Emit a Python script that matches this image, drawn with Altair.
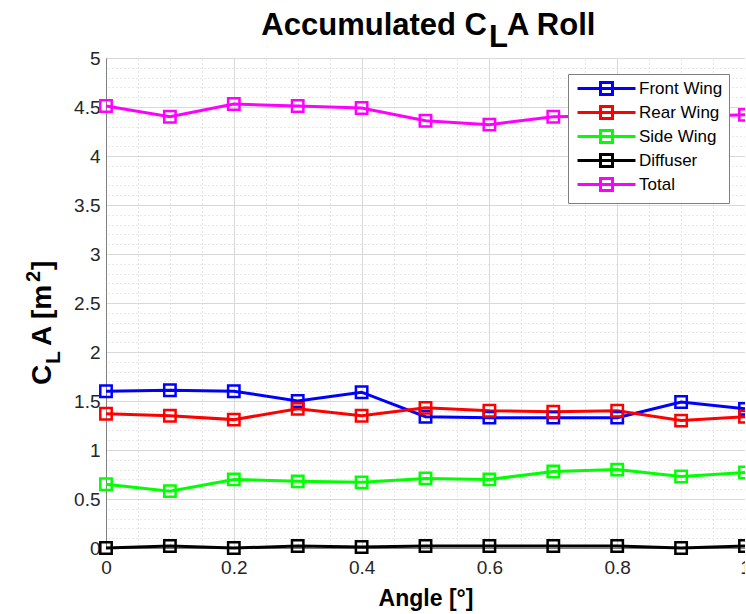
import altair as alt
import pandas as pd

# ---------------- data ----------------
angles = [0.0, 0.1, 0.2, 0.3, 0.4, 0.5, 0.6, 0.7, 0.8, 0.9, 1.0]
front_wing = [1.60, 1.61, 1.60, 1.50, 1.59, 1.34, 1.33, 1.33, 1.33, 1.49, 1.42]
rear_wing = [1.37, 1.35, 1.31, 1.42, 1.35, 1.43, 1.40, 1.39, 1.40, 1.30, 1.34]
side_wing = [0.65, 0.58, 0.70, 0.68, 0.67, 0.71, 0.70, 0.78, 0.80, 0.73, 0.77]
diffuser = [0.00, 0.02, 0.00, 0.02, 0.01, 0.02, 0.02, 0.02, 0.02, 0.00, 0.02]
total = [4.51, 4.40, 4.53, 4.51, 4.49, 4.36, 4.32, 4.40, 4.41, 4.40, 4.42]

series_names = ["Front Wing", "Rear Wing", "Side Wing", "Diffuser", "Total"]
series_colors = ["#0000ff", "#ff0000", "#00ff00", "#000000", "#ff00ff"]
series_values = [front_wing, rear_wing, side_wing, diffuser, total]

x_major = [0, 0.2, 0.4, 0.6, 0.8, 1]
y_major = [0, 0.5, 1, 1.5, 2, 2.5, 3, 3.5, 4, 4.5, 5]
x_minor = [round(i * 0.05, 2) for i in range(21)]
y_minor = [round(i * 0.1, 1) for i in range(51)]

rows = []
for name, vals in zip(series_names, series_values):
    for a, v in zip(angles, vals):
        rows.append({"angle": a, "value": v, "series": name})
df = pd.DataFrame(rows)

FONT = "Liberation Sans"
AXIS_GRAY = "#7f7f7f"

xscale = alt.Scale(domain=[0, 1], nice=False, zero=False)
yscale = alt.Scale(domain=[0, 5], nice=False, zero=False)
cscale = alt.Scale(domain=series_names, range=series_colors)

# legend symbol: line with hollow square in the middle
LEG_PATH = "M-1,0L10.6,0M3.6,-1.2L6,-1.2L6,1.2L3.6,1.2Z"

minor = alt.Chart(df).mark_point(opacity=0).encode(
    x=alt.X("angle:Q", scale=xscale, axis=alt.Axis(
        values=x_minor, grid=True, gridColor="#d0d0d0", gridDash=[1, 3], gridWidth=1,
        labels=False, ticks=False, domain=False, title=None, orient="top")),
    y=alt.Y("value:Q", scale=yscale, axis=alt.Axis(
        values=y_minor, grid=True, gridColor="#d0d0d0", gridDash=[1, 3], gridWidth=1,
        labels=False, ticks=False, domain=False, title=None, orient="right")),
)

lines = alt.Chart(df).mark_line(strokeWidth=3, opacity=1).encode(
    x=alt.X("angle:Q", scale=xscale, axis=alt.Axis(
        values=x_major, grid=True, gridColor="#d9d9d9", gridWidth=1,
        labels=True, labelFont=FONT, labelFontSize=19, labelColor="#262626",
        labelPadding=10, ticks=False, domain=True, domainColor=AXIS_GRAY,
        labelFlush=False, title=None, orient="bottom", format="~g")),
    y=alt.Y("value:Q", scale=yscale, axis=alt.Axis(
        values=y_major, grid=True, gridColor="#d9d9d9", gridWidth=1,
        labels=True, labelFont=FONT, labelFontSize=19, labelColor="#262626",
        labelPadding=6, ticks=False, domain=True, domainColor=AXIS_GRAY,
        labelFlush=False, title=None, orient="left", format="~g")),
    color=alt.Color("series:N", scale=cscale, legend=alt.Legend(
        title=None, orient="none", legendX=462, legendY=16,
        fillColor="white", strokeColor=AXIS_GRAY, padding=6,
        symbolType=LEG_PATH, symbolSize=100, symbolStrokeWidth=3,
        symbolFillColor="transparent", symbolOpacity=1,
        labelFont=FONT, labelFontSize=17, labelColor="black",
        labelOffset=48, rowPadding=-1)),
    detail="series:N",
)

points = alt.Chart(df).mark_point(shape="square", filled=False, size=130, strokeWidth=2.5, opacity=1).encode(
    x=alt.X("angle:Q", scale=xscale, axis=None),
    y=alt.Y("value:Q", scale=yscale, axis=None),
    color=alt.Color("series:N", scale=cscale),
)


def txt(s, x, y, size, angle=0, align="left", weight="bold"):
    return alt.Chart(pd.DataFrame({"t": [s]})).mark_text(
        font=FONT, fontSize=size, fontWeight=weight, align=align,
        baseline="alphabetic", angle=angle, color="black",
    ).encode(x=alt.value(x), y=alt.value(y), text="t:N")


# title: Accumulated C_L A Roll
title_parts = [
    txt("Accumulated C", 381, -23, 31, align="right"),
    txt("L", 383, -11, 31),
    txt("A Roll", 401, -23, 31),
]
# x title
xtitle = [txt("Angle [°]", 320, 548, 23, align="center")]
# y title: C_L A [m^2] rotated
ytitle = [
    txt("C", -55, 327, 28, angle=270),
    txt("L", -46, 306, 21, angle=270),
    txt("A [m", -55, 288, 28, angle=270),
    txt("2", -66, 224, 20, angle=270),
    txt("]", -55, 212, 28, angle=270),
]

chart = alt.layer(minor, lines, points, *title_parts, *xtitle, *ytitle).resolve_axis(
    x="independent", y="independent"
).properties(
    width=639, height=490,
    autosize=alt.AutoSizeParams(type="none"),
    padding={"left": 106, "top": 58, "right": 0, "bottom": 66},
    background="white",
).configure_view(stroke=AXIS_GRAY, strokeWidth=1)

chart.save("out.html", embed_options={"renderer": "svg", "actions": False})
